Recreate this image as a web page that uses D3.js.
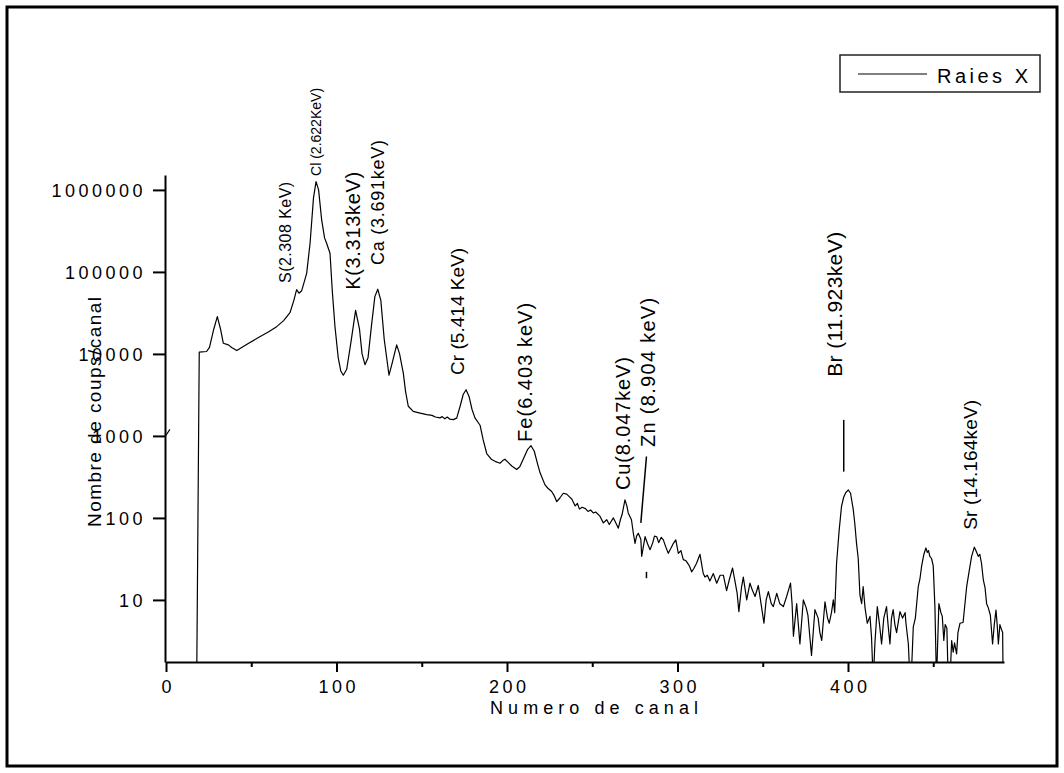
<!DOCTYPE html>
<html>
<head>
<meta charset="utf-8">
<script src="https://cdn.jsdelivr.net/npm/d3@7"></script>
<style>
  body { margin: 0; background: #fff; }
  text { font-family: "Liberation Sans", Arial, sans-serif; fill: #000; }
</style>
</head>
<body>
<div id="vis"></div>
<script>
const W = 1064, H = 773;

// spectrum: channel number and counts per channel (null = empty channel)
const channels = [
    0, 2.3, 2.6, 18, 19.5, 23.8, 25.5, 28, 30.1, 32, 33.6, 36.6, 38.5, 41.5, 48, 55, 60, 64.9, 69, 72.7,
    75, 76.6, 78, 79.6, 82.5, 84.5, 86.5, 88, 89.5, 91.3, 93, 94.2, 96.2, 97.5, 99.1, 101, 102.5, 104, 106, 108.5,
    111.2, 113.5, 115, 116.7, 118.5, 120.5, 122.5, 124.2, 126, 128, 130.8, 132.5, 135.3, 137, 139.2, 140.5, 142.1, 145, 149, 152.9,
    156, 158, 160.7, 162, 163.5, 165, 166.5, 168.5, 170.5, 172.5, 174.3, 176, 177.8, 179.5, 181.2, 184.2, 186, 188.1, 191, 193,
    195.9, 197.5, 198.8, 200.5, 202.8, 205.7, 207.5, 209.5, 212, 214.1, 216, 218, 219.4, 222.3, 224, 226.2, 227.5, 229.2, 231, 233,
    235, 236.5, 238, 240, 241.3, 242.5, 244, 246, 247.5, 249, 250.6, 252, 254.5, 256.5, 258.5, 260, 262.4, 263.5, 265.3, 266.5,
    267.5, 269.2, 270.3, 271.1, 273, 274.1, 275.1, 276, 277, 278.5, 279, 280, 281, 282.5, 283.9, 285.5, 286.5, 287.8, 289, 290.5,
    291.7, 293, 294.6, 296, 297.6, 299, 300.5, 302, 303.4, 305, 306.5, 307.3, 308.3, 309.5, 311.2, 313.2, 314.2, 315.1, 316.1, 317.5,
    319, 321, 323, 325, 326.9, 328.8, 330.5, 332.3, 333.7, 335, 336, 337.5, 338.6, 340.6, 342.5, 344, 345.5, 347.4, 349, 350.7,
    352, 353.3, 355, 356.2, 358.2, 360, 362.1, 364, 365.5, 366.3, 367.2, 368, 369.9, 371.8, 373.8, 375.5, 376.5, 378.6, 380.6, 382.5,
    383.5, 384.6, 386.5, 388, 389, 390.3, 391.4, 392.2, 393.3, 394.8, 396.2, 397.5, 398.8, 400.2, 401.5, 403.1, 404, 405, 406, 407,
    408, 408.9, 410, 411.3, 412.9, 413.8, 414.8, 415.8, 417.2, 418.5, 419.7, 421, 422.6, 423.5, 424.6, 425.5, 426.5, 427.5, 428.5, 430.5,
    432, 433.5, 434, 435.4, 436.4, 437, 438.3, 439.5, 441.2, 442.2, 443.2, 444.5, 445.7, 446.5, 447.2, 448, 449, 450, 451, 451.9,
    453.3, 454.5, 455.3, 456.2, 457, 458, 458.8, 459.8, 460.8, 461.7, 462.5, 463.7, 464.5, 465.7, 467.5, 469.6, 471, 472.5, 474.1, 475,
    476.4, 477.3, 478.3, 479.4, 480.4, 481.3, 482.3, 483.5, 484.8, 485.8, 486.8, 487.5, 488.2, 489.1, 489.8, 490.7, 491
];
const counts = [
    1020, 1200, null, 1, 10500, 10700, 12000, 20000, 28500, 20000, 13500, 12900, 12000, 11000, 13300, 16200, 18500, 21500, 25500, 31800,
    45000, 60700, 55000, 59000, 96000, 224000, 800000, 1260000, 1000000, 430000, 260000, 224000, 169000, 60000, 21600, 9000, 6200, 5500, 6500, 14000,
    34000, 20000, 10000, 7400, 9000, 22000, 50000, 61500, 45000, 15000, 5500, 7500, 12900, 10000, 5800, 3500, 2300, 1990, 1900, 1820,
    1780, 1700, 1660, 1720, 1620, 1700, 1600, 1580, 1650, 2300, 3200, 3660, 3000, 2100, 1660, 1350, 900, 610, 515, 490,
    465, 500, 520, 480, 430, 390, 420, 520, 680, 760, 650, 450, 355, 253, 230, 210, 190, 158, 175, 200,
    195, 182, 170, 140, 150, 128, 135, 130, 120, 125, 115, 118, 105, 87, 95, 83, 100, 90, 75, 95,
    110, 166, 140, 115, 95, 65, 49, 60, 65, 55, 34, 45, 59, 48, 41, 50, 60, 59, 50, 58,
    54, 45, 37, 42, 49, 54, 37, 40, 31, 30, 27, 25, 22, 24, 28, 36, 27, 21, 19, 20,
    17, 21, 16, 20, 20, 13, 18, 24.5, 17, 12, 7.2, 14, 19, 10, 16, 13, 11, 15, 9, 5.2,
    10, 12.6, 9, 8.3, 12, 9, 8.3, 11, 14, 16, 9, 3.6, 9, 2.9, 10, 8, 6.5, 2.1, 7.6, 6,
    4, 3.2, 9.5, 6, 5.2, 7, 10, 7, 28, 70, 138, 180, 205, 219, 200, 126, 85, 49, 32, 11.5,
    9, 14.5, 8, 5.2, 6.3, 3.5, 1, 3, 8.3, 5, 2.9, 6, 8.3, 5, 2.9, 6, 7.6, 5, 4, 7.2,
    6, 7, 5.2, 2.9, 1, 1, 4.7, 6, 14.5, 18, 26, 36, 43, 38, 40, 34, 32, 26, 8, 1,
    9, 7, 6.3, 3.2, 5, 4.5, 1, 1, 3.2, 2.3, 3, 2.2, 4, 5.2, 5.3, 14.5, 22, 34, 44, 40,
    34, 36, 28, 17.4, 14, 9, 8, 6.5, 2.9, 5, 7.5, 5, 2.9, 5, 4.5, 4, 1
];

const xTicks = [0, 100, 200, 300, 400];
const xMinorTicks = [50, 150, 250, 350, 450];
const yTicks = [10, 100, 1000, 10000, 100000, 1000000];

// peak annotations: text, channel and counts at the foot of the rotated text
const peakLabels = ['S(2.308 KeV)', 'Cl (2.622KeV)', 'K(3.313keV)', 'Ca (3.691keV)', 'Cr (5.414 KeV)',
    'Fe(6.403 keV)', 'Cu(8.047keV)', 'Zn (8.904 keV)', 'Br (11.923keV)', 'Sr (14.164keV)'];
const peakChannels = [70.4, 88.6, 110.3, 124.6, 171.3, 211.1, 268.6, 283.3, 393, 472.1];
const peakCounts = [73500, 1480000, 60500, 121600, 5550, 845, 219, 735, 5250, 71.5];
const labelSize = [16, 14, 20, 18, 19, 20, 20, 20, 21, 19];
const labelLength = [101, 88, 118, 125, 127, 139, 133, 149, 145, 130];

// pointer strokes: [channel1, counts1, channel2, counts2]
const pointers = [
    [281.8, 562, 278.5, 87],
    [281.8, 22, 281.8, 18.4],
    [397.5, 1570, 397.5, 367]
];

const svg = d3.select('#vis').append('svg')
    .attr('width', W)
    .attr('height', H);

svg.append('rect')
    .attr('x', 7).attr('y', 7)
    .attr('width', 1050).attr('height', 759)
    .attr('fill', 'none')
    .attr('stroke', '#000')
    .attr('stroke-width', 3);

const x = d3.scaleLinear().domain([0, 491.5]).range([166, 1004]);
const y = d3.scaleLog().domain([1.75, 1.52e6]).range([662, 175]);

svg.append('clipPath').attr('id', 'plotClip')
    .append('rect')
    .attr('x', 166).attr('y', 175)
    .attr('width', 838).attr('height', 487);

const data = channels.map((c, i) => [c, counts[i]]);

const line = d3.line()
    .defined(d => d[1] != null)
    .x(d => x(d[0]))
    .y(d => y(d[1]));

svg.append('path')
    .datum(data)
    .attr('clip-path', 'url(#plotClip)')
    .attr('fill', 'none')
    .attr('stroke', '#000')
    .attr('stroke-width', 1.2)
    .attr('stroke-linejoin', 'round')
    .attr('d', line);

// axes
const xAxis = svg.append('g')
    .attr('transform', 'translate(0,662)')
    .call(d3.axisBottom(x).tickValues(xTicks).tickSize(10).tickSizeOuter(0).tickPadding(8).tickFormat(d3.format('d')));

svg.append('g')
    .attr('transform', 'translate(0,662)')
    .call(d3.axisBottom(x).tickValues(xMinorTicks).tickSize(5).tickSizeOuter(0).tickFormat(''))
    .select('.domain').remove();

const yAxis = svg.append('g')
    .attr('transform', 'translate(165,0)')
    .call(d3.axisLeft(y).tickValues(yTicks).tickSize(12).tickSizeOuter(0).tickPadding(8).tickFormat(d => String(d)));

svg.selectAll('.domain, .tick line')
    .attr('stroke', '#000')
    .attr('stroke-width', 2);

xAxis.selectAll('.tick text')
    .style('font-size', '18px')
    .style('letter-spacing', '3.5px')
    .attr('dx', '1.75px')
    .attr('dy', '0.71em');

yAxis.selectAll('.tick text')
    .style('font-size', '18px')
    .style('letter-spacing', '3.5px')
    .attr('x', -19)
    .attr('dy', '0.35em');

// axis titles
svg.append('text')
    .attr('x', 490)
    .attr('y', 714)
    .attr('textLength', 208)
    .attr('lengthAdjust', 'spacing')
    .style('font-size', '18px')
    .text('Numero de canal');

svg.append('text')
    .attr('transform', 'translate(94,527) rotate(-90)')
    .attr('dy', '0.35em')
    .attr('textLength', 230)
    .attr('lengthAdjust', 'spacing')
    .style('font-size', '19px')
    .text('Nombre de coups/canal');

// peak labels
svg.selectAll('.peak')
    .data(peakLabels)
    .join('text')
    .attr('class', 'peak')
    .attr('transform', (d, i) => `translate(${x(peakChannels[i])},${y(peakCounts[i])}) rotate(-90)`)
    .attr('dy', '0.3em')
    .attr('textLength', (d, i) => labelLength[i])
    .attr('lengthAdjust', 'spacing')
    .style('font-size', (d, i) => labelSize[i] + 'px')
    .text(d => d);

svg.selectAll('.pointer')
    .data(pointers)
    .join('line')
    .attr('class', 'pointer')
    .attr('x1', d => x(d[0]))
    .attr('y1', d => y(d[1]))
    .attr('x2', d => x(d[2]))
    .attr('y2', d => y(d[3]))
    .attr('stroke', '#000')
    .attr('stroke-width', 1.5);

// legend
const legend = svg.append('g');
legend.append('rect')
    .attr('x', 840).attr('y', 55)
    .attr('width', 200).attr('height', 37)
    .attr('fill', 'none')
    .attr('stroke', '#222')
    .attr('stroke-width', 1.5);
legend.append('line')
    .attr('x1', 858).attr('x2', 927)
    .attr('y1', 74).attr('y2', 74)
    .attr('stroke', '#000')
    .attr('stroke-width', 1.2);
legend.append('text')
    .attr('x', 937)
    .attr('y', 83)
    .attr('textLength', 91)
    .attr('lengthAdjust', 'spacing')
    .style('font-size', '20px')
    .text('Raies X');
</script>
</body>
</html>
